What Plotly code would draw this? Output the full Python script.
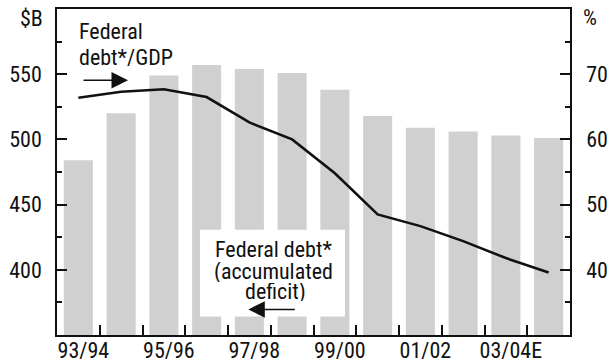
import plotly.graph_objects as go

# Fiscal years (every other one is labelled on the axis)
years = ["93/94", "94/95", "95/96", "96/97", "97/98", "98/99",
         "99/00", "00/01", "01/02", "02/03", "03/04E", "04/05E"]
# Federal debt (accumulated deficit), $ billions
debt_bn = [484, 520, 549, 557, 554, 551, 538, 518, 509, 506, 503, 501]
# Federal debt as a share of GDP, %
debt_gdp_pct = [66.4, 67.3, 67.7, 66.5, 62.6, 60.0, 54.8, 48.5, 46.7, 44.4, 41.8, 39.6]

left_ticks = [400, 450, 500, 550]
left_minor = [375, 425, 475, 525, 575]
right_ticks = [40, 50, 60, 70]
right_minor = [35, 45, 55, 65, 75]

FONT = "Liberation Sans Narrow, Arial Narrow, Roboto Condensed, Liberation Sans, Arial, sans-serif"
INK = "#111111"

fig = go.Figure()
fig.add_trace(go.Bar(
    x=years, y=debt_bn, yaxis="y",
    marker=dict(color="#d0d0d0", line=dict(width=0)),
    width=0.68, showlegend=False,
))
fig.add_trace(go.Scatter(
    x=years, y=debt_gdp_pct, yaxis="y2", mode="lines",
    line=dict(color=INK, width=2.6), showlegend=False,
))

ticktext = [y if i % 2 == 0 else "" for i, y in enumerate(years)]

fig.update_layout(
    width=614, height=362,
    margin=dict(l=57, r=44, t=9, b=27, autoexpand=False),
    paper_bgcolor="white", plot_bgcolor="white",
    font=dict(family=FONT, size=22, color=INK),
    xaxis=dict(
        type="category", tickmode="array", tickvals=years, ticktext=ticktext,
        tickson="boundaries", ticks="inside", ticklen=10, tickwidth=1.5, tickcolor=INK,
        tickangle=0, automargin=False,
        ticklabelshift=5, ticklabelstandoff=-5,
        showline=True, linecolor=INK, linewidth=1.5, mirror=True,
        showgrid=False, zeroline=False, range=[-0.5, 11.5],
    ),
    yaxis=dict(
        range=[350, 600], tickmode="array", tickvals=left_ticks,
        ticks="inside", ticklen=10, tickwidth=1.5, tickcolor=INK,
        minor=dict(tickmode="array", tickvals=left_minor, ticks="inside",
                   ticklen=5, tickwidth=1.5, tickcolor=INK),
        ticklabelstandoff=9, automargin=False,
        showline=True, linecolor=INK, linewidth=1.5,
        showgrid=False, zeroline=False,
    ),
    yaxis2=dict(
        overlaying="y", side="right",
        range=[30, 80], tickmode="array", tickvals=right_ticks,
        ticks="inside", ticklen=10, tickwidth=1.5, tickcolor=INK,
        minor=dict(tickmode="array", tickvals=right_minor, ticks="inside",
                   ticklen=5, tickwidth=1.5, tickcolor=INK),
        ticklabelstandoff=10, automargin=False,
        showline=True, linecolor=INK, linewidth=1.5,
        showgrid=False, zeroline=False,
    ),
)

# White panel behind the debt label
fig.add_shape(type="rect", xref="x", yref="y",
              x0=2.845, x1=6.237, y0=364.2, y1=430.8,
              fillcolor="white", line=dict(width=0), layer="above")

annotations = [
    dict(text="$B", xref="paper", yref="paper", x=-0.023, y=0.97,
         xanchor="right", yanchor="middle"),
    dict(text="%", xref="paper", yref="paper", x=1.022, y=0.975,
         xanchor="left", yanchor="middle"),
    dict(text="Federal", xref="x", yref="y", x=-0.03, y=582.7,
         xanchor="left", yanchor="middle"),
    dict(text="debt*/GDP", xref="x", yref="y", x=-0.03, y=562.5,
         xanchor="left", yanchor="middle"),
    # tightly leaded three-line label for the bars
    dict(text="Federal debt*", xref="x", yref="y", x=4.564, y=415.8,
         xanchor="center", yanchor="middle", height=22, borderpad=0),
    dict(text="(accumulated", xref="x", yref="y", x=4.564, y=398.5,
         xanchor="center", yanchor="middle", height=20, borderpad=0),
    dict(text="deficit)", xref="x", yref="y", x=4.62, y=382.7,
         xanchor="center", yanchor="middle", height=18, borderpad=0),
    # arrows
    dict(text="", xref="x", yref="y", x=1.161, y=545.4, ax=-46, ay=0,
         showarrow=True, arrowhead=2, arrowsize=2.2, arrowwidth=1.5, arrowcolor=INK),
    dict(text="", xref="x", yref="y", x=3.975, y=369.6, ax=48, ay=0,
         showarrow=True, arrowhead=2, arrowsize=2.2, arrowwidth=1.5, arrowcolor=INK),
]
for a in annotations:
    a.setdefault("showarrow", False)
    a["font"] = dict(family=FONT, size=22, color=INK)
    fig.add_annotation(**a)

fig.write_html("out.html")
